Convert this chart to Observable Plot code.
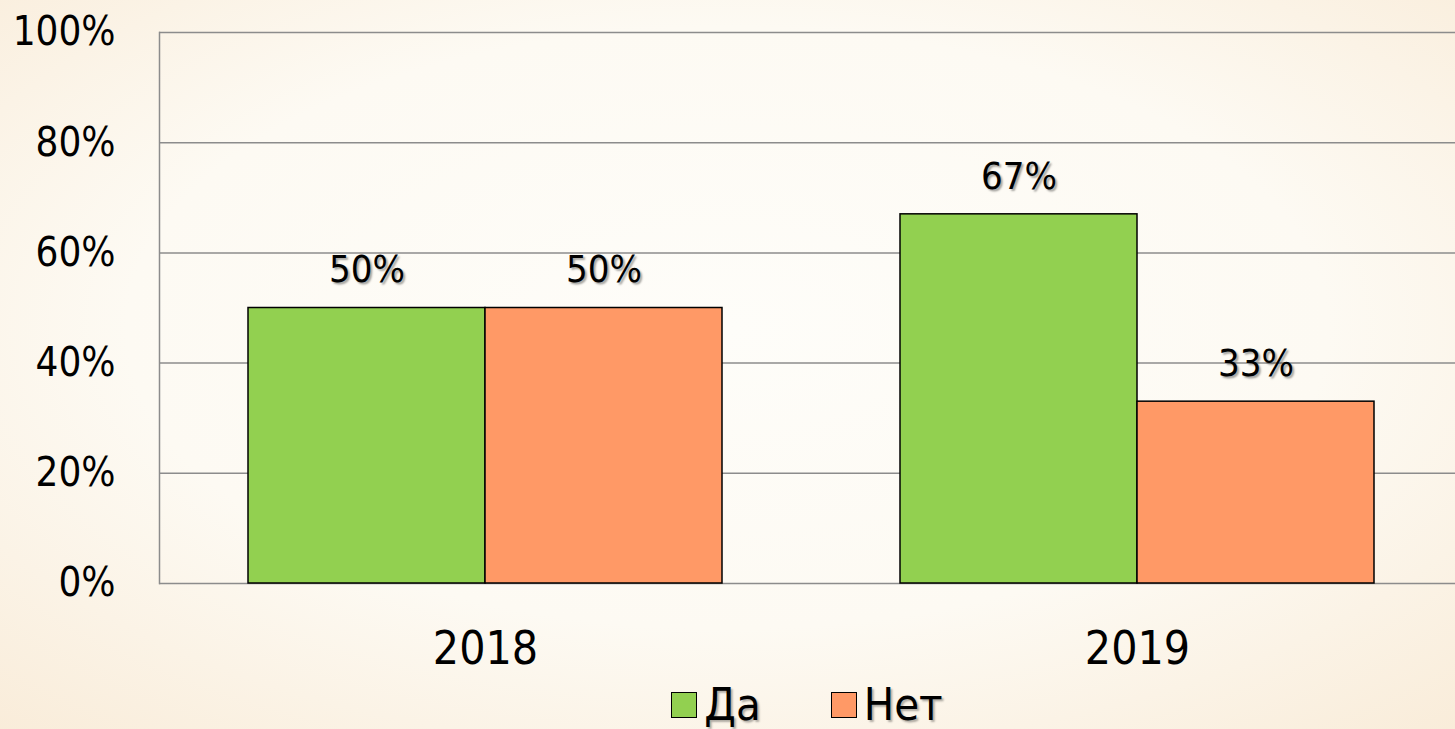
<!DOCTYPE html>
<html>
<head>
<meta charset="utf-8">
<script src="https://cdn.jsdelivr.net/npm/d3@7"></script>
<script src="https://cdn.jsdelivr.net/npm/@observablehq/plot@0.6"></script>
<style>
  html, body { margin: 0; padding: 0; }
  body {
    width: 1455px; height: 729px; overflow: hidden;
    background: radial-gradient(ellipse 75% 75% at 50% 45%, #fefdf9 0%, #fdfaf3 55%, #f9ecd9 100%);
    font-family: "DejaVu Sans Condensed", "DejaVu Sans", sans-serif;
  }
  #chart { width: 1455px; height: 680px; overflow: hidden; }
  #chart svg { display: block; background: transparent; max-width: none !important; }
  .vals text { text-shadow: 2px 2px 2px rgba(0,0,0,0.35); }
  #legend {
    width: 1455px; box-sizing: border-box;
    height: 49px; display: flex; align-items: center; justify-content: center;
    padding-left: 159px; gap: 70px; font-size: 45px; color: #000;
    text-shadow: 2px 2px 2px rgba(0,0,0,0.3);
  }
  #legend .item { display: flex; align-items: center; gap: 7px; }
  #legend .sw { width: 26px; height: 26px; border: 1.5px solid #000; box-sizing: border-box; }
</style>
</head>
<body>
<div id="chart"></div>
<div id="legend"></div>
<script>
const years = ["2018", "2019"];
const series = ["Да", "Нет"];
const yesValues = [50, 67];
const noValues = [50, 33];
const colors = ["#92d050", "#ff9966"];
const yTicks = [0, 20, 40, 60, 80, 100];

const data = [];
years.forEach((yr, i) => {
  data.push({year: yr, series: series[0], value: yesValues[i]});
  data.push({year: yr, series: series[1], value: noValues[i]});
});

const font = '"DejaVu Sans Condensed", "DejaVu Sans", sans-serif';
const plot = Plot.plot({
  width: 1463,
  height: 680,
  marginTop: 32,
  marginBottom: 97,
  marginLeft: 159,
  marginRight: 0,
  style: {fontFamily: font, background: "transparent", color: "#000", overflow: "visible"},
  fx: {domain: years, paddingInner: 0, paddingOuter: 0, label: null},
  x: {domain: series, paddingInner: 0, paddingOuter: 0.3755, axis: null},
  y: {domain: [0, 100], ticks: yTicks, label: null},
  color: {domain: series, range: colors},
  marks: [
    Plot.ruleY(yTicks, {stroke: "#8c8c8c", strokeWidth: 1.5}),
    Plot.frame({anchor: "left", facetAnchor: "left", stroke: "#8c8c8c", strokeWidth: 1.5}),
    Plot.barY(data, {fx: "year", x: "series", y: "value", fill: "series", stroke: "#000", strokeWidth: 1.5}),
    Plot.text(data, {fx: "year", x: "series", y: "value", text: d => d.value + "%", dy: -38, fontSize: 38, fill: "#000", className: "vals"}),
    Plot.axisY({ticks: yTicks, tickFormat: d => d + "%", tickSize: 0, tickPadding: 44, fontSize: 40, label: null}),
    Plot.axisFx({anchor: "bottom", tickSize: 0, tickPadding: 48, fontSize: 46, label: null})
  ]
});
document.getElementById("chart").appendChild(plot);

const legend = document.getElementById("legend");
series.forEach((s, i) => {
  const item = document.createElement("div");
  item.className = "item";
  const sw = document.createElement("div");
  sw.className = "sw";
  sw.style.background = colors[i];
  const label = document.createElement("span");
  label.textContent = s;
  item.appendChild(sw);
  item.appendChild(label);
  legend.appendChild(item);
});
</script>
</body>
</html>
